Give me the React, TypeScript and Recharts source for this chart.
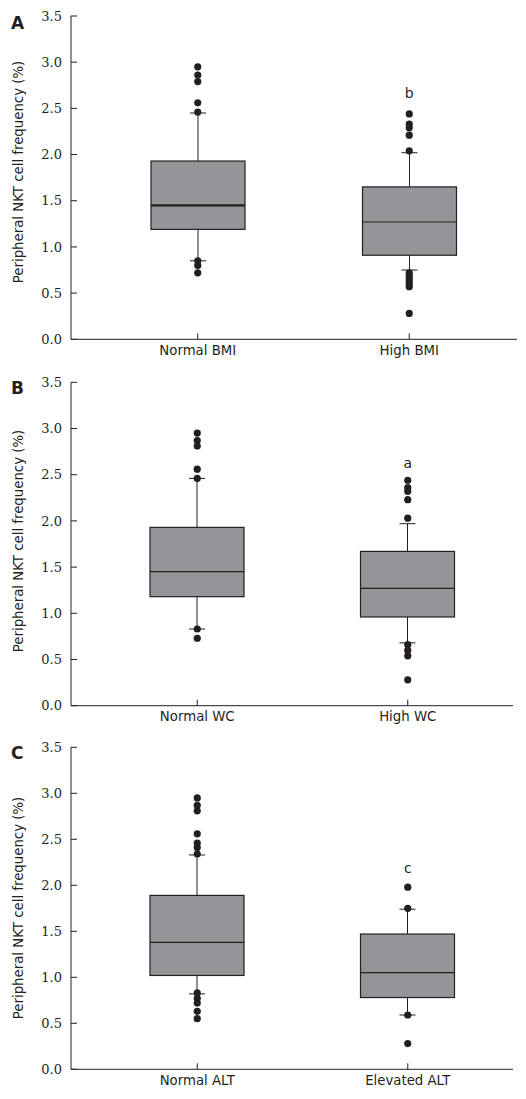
import React from 'react';
import { ComposedChart, Bar, Scatter, XAxis, YAxis, ReferenceDot } from 'recharts';

// ---------- shared ----------
const yTicks = [0, 0.5, 1.0, 1.5, 2.0, 2.5, 3.0, 3.5];
const yLabel = 'Peripheral NKT cell frequency (%)';

// ---------- Panel A: BMI ----------
const catsA = ['Normal BMI', 'High BMI'];
const wLowA = [0.85, 0.75];
const q1A = [1.19, 0.91];
const medA = [1.45, 1.27];
const q3A = [1.93, 1.65];
const wHighA = [2.45, 2.02];
const outA0 = [2.95, 2.86, 2.79, 2.56, 2.46, 0.85, 0.80, 0.72];
const outA1 = [2.44, 2.33, 2.29, 2.21, 2.04, 0.72, 0.69, 0.66, 0.63, 0.60, 0.57, 0.28];
const sigA = 'b';
const sigYA = 2.67;

// ---------- Panel B: WC ----------
const catsB = ['Normal WC', 'High WC'];
const wLowB = [0.83, 0.68];
const q1B = [1.18, 0.96];
const medB = [1.45, 1.27];
const q3B = [1.93, 1.67];
const wHighB = [2.46, 1.97];
const outB0 = [2.95, 2.87, 2.81, 2.56, 2.46, 0.83, 0.73];
const outB1 = [2.44, 2.36, 2.32, 2.23, 2.03, 0.66, 0.60, 0.54, 0.28];
const sigB = 'a';
const sigYB = 2.63;

// ---------- Panel C: ALT ----------
const catsC = ['Normal ALT', 'Elevated ALT'];
const wLowC = [0.82, 0.59];
const q1C = [1.02, 0.78];
const medC = [1.38, 1.05];
const q3C = [1.89, 1.47];
const wHighC = [2.33, 1.74];
const outC0 = [2.95, 2.87, 2.81, 2.56, 2.46, 2.41, 2.34, 0.83, 0.77, 0.72, 0.63, 0.55];
const outC1 = [1.98, 1.75, 0.59, 0.28];
const sigC = 'c';
const sigYC = 2.19;

const INK = '#231f20';
const BOX = '#939598';

function buildBoxes(cats, wLow, q1, med, q3, wHigh) {
  return cats.map((c, i) => ({
    cat: c,
    range: [wLow[i], wHigh[i]],
    wLow: wLow[i],
    q1: q1[i],
    med: med[i],
    q3: q3[i],
    wHigh: wHigh[i],
  }));
}

function buildOutliers(cats, lists) {
  const res = [];
  cats.forEach((c, i) => lists[i].forEach((v) => res.push({ cat: c, v })));
  return res;
}

const makeBoxShape = (medianWidths) => (props) => {
  const { x, y, width, height, payload, index } = props;
  if (payload == null) return null;
  const { wLow, q1, med, q3, wHigh } = payload;
  const span = wHigh - wLow;
  const toY = (v) => y + (height * (wHigh - v)) / span;
  const cx = x + width / 2;
  const capHalf = 8;
  const yq3 = toY(q3);
  const yq1 = toY(q1);
  const ym = toY(med);
  const mw = medianWidths[index] || 1;
  return (
    <g>
      <line x1={cx} x2={cx} y1={y} y2={yq3} stroke={INK} strokeWidth={1} />
      <line x1={cx} x2={cx} y1={yq1} y2={y + height} stroke={INK} strokeWidth={1} />
      <line x1={cx - capHalf} x2={cx + capHalf} y1={y} y2={y} stroke={INK} strokeWidth={1} />
      <line x1={cx - capHalf} x2={cx + capHalf} y1={y + height} y2={y + height} stroke={INK} strokeWidth={1} />
      <rect x={x} y={yq3} width={width} height={yq1 - yq3} fill={BOX} stroke={INK} strokeWidth={1.2} />
      <line x1={x} x2={x + width} y1={ym} y2={ym} stroke={INK} strokeWidth={mw} />
    </g>
  );
};

const Dot = (p) => (p.cx == null ? null : <circle cx={p.cx} cy={p.cy} r={3.6} fill={INK} />);

function Panel({ letter, boxes, outliers, sig, sigY, height, marginTop, marginBottom, marginRight, padRight, labelCy, medianWidths }) {
  const shape = makeBoxShape(medianWidths);
  return (
    <ComposedChart
      width={526}
      height={height}
      data={boxes}
      margin={{ top: marginTop, right: marginRight, bottom: marginBottom, left: 0 }}
    >
      <XAxis
        dataKey="cat"
        type="category"
        allowDuplicatedCategory={false}
        padding={{ left: 21, right: padRight }}
        height={25}
        tickSize={-6}
        tickMargin={12}
        axisLine={{ stroke: INK, strokeWidth: 1 }}
        tickLine={{ stroke: INK, strokeWidth: 1 }}
        tick={{ fill: INK, fontSize: 13.3, fontFamily: 'DejaVu Sans' }}
        interval={0}
      />
      <YAxis
        type="number"
        domain={[0, 3.5]}
        ticks={yTicks}
        width={71}
        tickSize={-6}
        tickMargin={15}
        allowDataOverflow
        tickFormatter={(v) => Number(v).toFixed(1)}
        axisLine={{ stroke: INK, strokeWidth: 1 }}
        tickLine={{ stroke: INK, strokeWidth: 1 }}
        tick={{ fill: INK, fontSize: 13, fontFamily: 'DejaVu Serif' }}
        label={{
          content: () => (
            <g>
              <text
                x={18}
                y={labelCy}
                transform={`rotate(-90, 18, ${labelCy})`}
                textAnchor="middle"
                dominantBaseline="central"
                fill={INK}
                fontSize={13.3}
                fontFamily="DejaVu Sans"
              >
                {yLabel}
              </text>
              <text x={11} y={28.5} fill={INK} fontSize={17} fontWeight="bold" fontFamily="DejaVu Sans">
                {letter}
              </text>
            </g>
          ),
        }}
      />
      <Bar dataKey="range" barSize={94} isAnimationActive={false} shape={shape} />
      <Scatter data={outliers} dataKey="v" isAnimationActive={false} shape={Dot} />
      <ReferenceDot
        x={boxes[1].cat}
        y={sigY}
        r={0}
        fill="none"
        stroke="none"
        label={{ value: sig, position: 'center', fill: INK, fontSize: 14, fontFamily: 'DejaVu Sans' }}
      />
    </ComposedChart>
  );
}

export default function App() {
  const boxesA = buildBoxes(catsA, wLowA, q1A, medA, q3A, wHighA);
  const boxesB = buildBoxes(catsB, wLowB, q1B, medB, q3B, wHighB);
  const boxesC = buildBoxes(catsC, wLowC, q1C, medC, q3C, wHighC);
  return (
    <div style={{ position: 'absolute', left: 0, top: 0, width: 526, height: 1099, background: '#fff' }}>
      <div style={{ position: 'absolute', left: 0, top: 0 }}>
        <Panel
          letter="A"
          boxes={boxesA}
          outliers={buildOutliers(catsA, [outA0, outA1])}
          sig={sigA}
          sigY={sigYA}
          height={365}
          marginTop={16}
          marginBottom={0.7}
          marginRight={9}
          padRight={2}
          labelCy={172}
          medianWidths={[2.2, 1]}
        />
      </div>
      <div style={{ position: 'absolute', left: 0, top: 365 }}>
        <Panel
          letter="B"
          boxes={boxesB}
          outliers={buildOutliers(catsB, [outB0, outB1])}
          sig={sigB}
          sigY={sigYB}
          height={366}
          marginTop={17.3}
          marginBottom={0.3}
          marginRight={13}
          padRight={0}
          labelCy={176}
          medianWidths={[1.2, 1.2]}
        />
      </div>
      <div style={{ position: 'absolute', left: 0, top: 730 }}>
        <Panel
          letter="C"
          boxes={boxesC}
          outliers={buildOutliers(catsC, [outC0, outC1])}
          sig={sigC}
          sigY={sigYC}
          height={369}
          marginTop={17.3}
          marginBottom={4.7}
          marginRight={13}
          padRight={0}
          labelCy={178}
          medianWidths={[1.2, 1.2]}
        />
      </div>
    </div>
  );
}
